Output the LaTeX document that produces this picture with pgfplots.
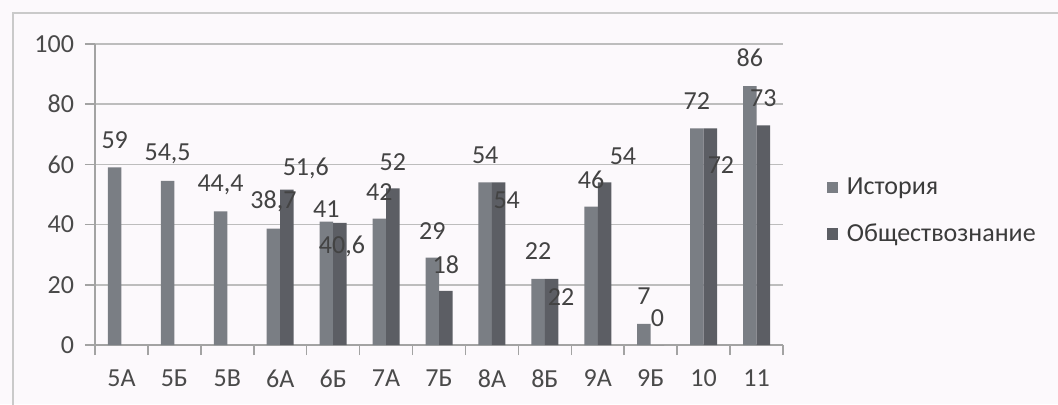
\documentclass[border=0pt]{standalone}
\usepackage{fontspec}
\setmainfont{Carlito}
\usepackage{pgfplots}
\usepackage{pgfplotstable}
\pgfplotsset{compat=1.18}
\definecolor{hist}{HTML}{7A7E84}
\definecolor{obsh}{HTML}{5C5E64}
\definecolor{gridc}{HTML}{BDBDBD}
\definecolor{axc}{HTML}{A3A3A3}
\definecolor{txt}{HTML}{4A4A4A}
\definecolor{bg}{HTML}{FCF9FC}

% label offsets (pt) kept as in the source picture
\pgfplotstableread{
x  h    hl    hdx hdy   o     ol    odx  ody
0  59   59    0   13.4  nan   -     0    0
1  54.5 54,5  0   13.4  nan   -     0    0
2  44.4 44,4  0   13.4  nan   -     0    0
3  38.7 38,7  0   13.8  51.6  51,6  9.4  10.7
4  41   41    0   6.4   40.6  40,6  1    -12
5  42   42    0   13.5  52    52    0    13.4
6  29   29    0   13.4  18    18    0    12.9
7  54   54    0   13.4  54    54    4    -8.8
8  22   22    0   14    22    22    4.7  -9
9  46   46    0   13.4  54    54    9.2  12.9
10 7    7     0   14    0     0     0    13.4
11 72   72    0   13.4  72    72    5.3  -18.4
12 86   86    0   14.2  73    73    0    13.5
}\data

\begin{document}
\begin{tikzpicture}
\useasboundingbox (0,0) rectangle (529pt,202pt);
\fill[bg] (0,0) rectangle (529pt,202pt);
\draw[gridc!80, line width=0.8pt] (6.5pt,-1pt) -- (6.5pt,195.5pt) -- (530pt,195.5pt);
\begin{axis}[
  at={(47.5pt,29.5pt)}, anchor=south west,
  scale only axis, width=344pt, height=150.5pt,
  ybar=0pt, bar width=6.75pt,
  xmin=-0.5, xmax=12.5, ymin=0, ymax=100,
  axis lines*=left,
  axis line style={draw=axc, line width=0.8pt},
  ytick={0,20,...,100},
  xtick={-0.5,0.5,...,12.5},
  x tick label as interval,
  xticklabels={5А,5Б,5В,6А,6Б,7А,7Б,8А,8Б,9А,9Б,10,11},
  tick align=outside, major tick length=5pt,
  tick style={draw=axc, line width=0.8pt},
  ymajorgrids, major grid style={draw=gridc, line width=0.8pt},
  tick label style={font=\fontsize{13}{15}\selectfont, text=txt},
  /pgf/number format/assume math mode=true,
  yticklabel style={xshift=-2pt},
  xticklabel style={yshift=-4pt},
  nodes near coords style={font=\fontsize{13}{15}\selectfont, text=txt!90!black},
  legend style={at={(1.063,0.445)}, anchor=west, draw=none, fill=none,
    font=\fontsize{13}{15}\selectfont, text=txt!80!black, row sep=9pt,
    column sep=2.5pt, inner sep=0pt},
  legend cell align=left,
  legend image code/.code={\fill[#1] (0pt,-2.8pt) rectangle (5.6pt,2.8pt);},
]
\addplot[fill=hist, draw=none,
  nodes near coords, point meta=explicit symbolic,
  visualization depends on={\thisrow{hdx} \as \dx},
  visualization depends on={\thisrow{hdy} \as \dy},
  every node near coord/.append style={anchor=center, xshift=\dx pt, yshift=\dy pt},
] table[x=x, y=h, meta=hl] {\data};
\addlegendentry{История}
\addplot[fill=obsh, draw=none,
  nodes near coords, point meta=explicit symbolic,
  visualization depends on={\thisrow{odx} \as \dx},
  visualization depends on={\thisrow{ody} \as \dy},
  every node near coord/.append style={anchor=center, xshift=\dx pt, yshift=\dy pt},
] table[x=x, y=o, meta=ol] {\data};
\addlegendentry{Обществознание}
\end{axis}
\end{tikzpicture}
\end{document}
